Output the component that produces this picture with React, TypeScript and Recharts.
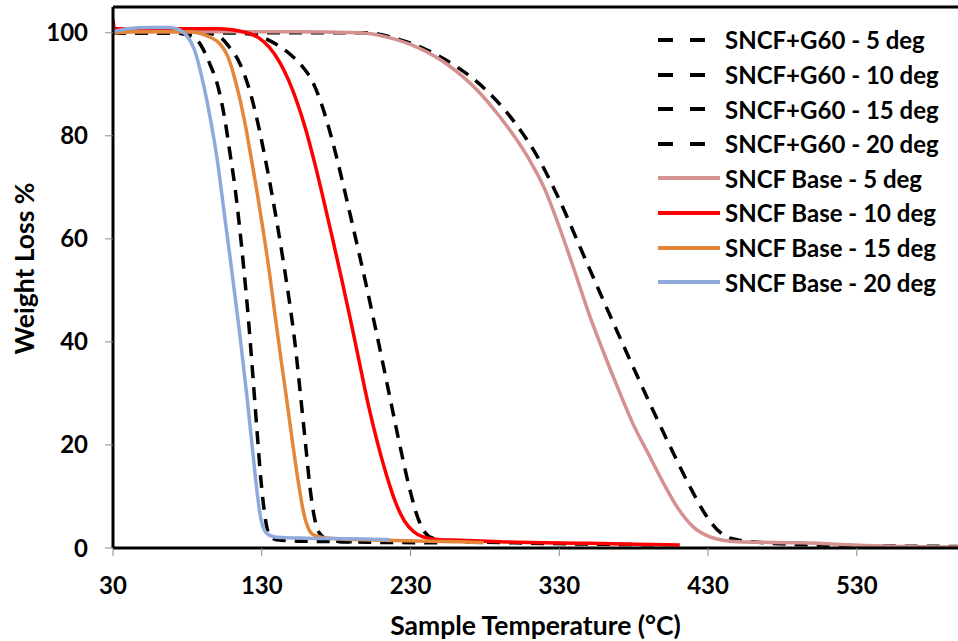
import React from 'react';
import { LineChart, Line, XAxis, YAxis, ReferenceLine } from 'recharts';

// [temperature °C, weight %] pairs
const g60_5deg = [[30, 100], [200, 100], [220, 98.9], [240, 96.8], [260, 93.6], [280, 89.1], [300, 82.6], [315, 76.1], [330, 67.6], [345, 57.7], [360, 47.8], [375, 38.1], [390, 28.6], [405, 19.4], [418, 11.8], [428, 6.6], [436, 3.6], [445, 1.9], [460, 1.2], [500, 0.6], [598, 0.3]];
const g60_10deg = [[30, 100], [110, 100], [125, 99.6], [140, 97.7], [150, 95.6], [158, 93.2], [164, 90.6], [170, 86.3], [175, 81.6], [180, 76.2], [185, 70.2], [190, 64], [195, 57.7], [200, 51.3], [205, 44.6], [210, 37.8], [215, 30.8], [220, 23.8], [225, 17], [230, 10.8], [235, 5.8], [240, 2.9], [245, 1.9], [260, 1.3], [300, 1.0], [400, 0.6]];
const g60_15deg = [[30, 100], [90, 100], [100, 99.5], [108, 97.3], [115, 94.2], [121, 89.6], [126, 84.2], [131, 77.5], [136, 70], [140, 63.5], [144, 56.5], [148, 49], [152, 40.5], [157, 27], [160, 18.5], [162.5, 11.5], [165, 6.5], [167.5, 3.6], [171, 2.2], [176, 1.5], [185, 1.2], [250, 1.0]];
const g60_20deg = [[30, 100], [70, 100], [80, 99.6], [86.5, 98.6], [95, 94], [100.6, 89.5], [105.3, 83], [108.6, 76.7], [112, 70], [115, 62.5], [118, 54], [121, 44.5], [124, 33.5], [127, 22], [129.5, 13], [132, 6.5], [134, 3.3], [136, 2.2], [140, 1.6], [158, 1.3], [200, 1.2]];
const base_5deg = [[30, 100.2], [150, 100.2], [196, 100], [215, 99.1], [235, 97.1], [255, 93.8], [275, 88.8], [290, 83.7], [300, 79.8], [310, 75.3], [320, 69.8], [330, 62.3], [340, 54], [350, 45.4], [360, 37.8], [370, 30.6], [380, 23.8], [390, 18.2], [400, 12.6], [410, 7.6], [420, 4.1], [430, 2.3], [440, 1.5], [450, 1.2], [492, 1.0], [547, 0.4], [598, 0.2]];
const base_10deg = [[30, 102.6], [31, 100.8], [100, 100.8], [120, 100], [128, 99], [135, 97.2], [142, 94.3], [148, 90.8], [154, 86.3], [160, 80.8], [166, 74.2], [172, 67], [178, 59.5], [184, 51.8], [190, 43.8], [196, 35.5], [202, 27.3], [208, 20.2], [214, 14], [220, 8.8], [226, 5.2], [232, 3.2], [238, 2.2], [250, 1.6], [263, 1.5], [290, 1.2], [350, 0.9], [411, 0.6]];
const base_15deg = [[30, 99.9], [45, 100.2], [80, 100.2], [95, 99.2], [102, 97.8], [107, 95.5], [111, 92], [115, 87.5], [119, 82], [123, 75.5], [127, 68.8], [131, 61.5], [135, 53.8], [139, 45], [143, 36.5], [147, 28.3], [151, 19.8], [155, 12], [158, 7], [161, 4], [164, 2.7], [170, 2.1], [180, 1.8], [200, 1.6], [263, 1.2], [279, 1.0]];
const base_20deg = [[30, 100.2], [40, 100.8], [55, 101], [68, 101], [75, 100.5], [80, 99.3], [85, 96.5], [90, 91], [95, 84], [100, 75.5], [105, 64.5], [110, 53.5], [115, 42], [120, 29.5], [124, 18.5], [127, 10.5], [129.5, 5.5], [132, 3.3], [135, 2.5], [140, 2.1], [160, 1.9], [190, 1.8], [216, 1.6]];

const xTicks = [30, 130, 230, 330, 430, 530];
const yTicks = [0, 20, 40, 60, 80, 100];

const FONT = 'Lato, "Open Sans", sans-serif';

const series = [
  { name: 'SNCF+G60 - 5 deg', points: g60_5deg, color: '#000000', dashed: true },
  { name: 'SNCF+G60 - 10 deg', points: g60_10deg, color: '#000000', dashed: true },
  { name: 'SNCF+G60 - 15 deg', points: g60_15deg, color: '#000000', dashed: true },
  { name: 'SNCF+G60 - 20 deg', points: g60_20deg, color: '#000000', dashed: true },
  { name: 'SNCF Base - 5 deg', points: base_5deg, color: '#D4918F', dashed: false },
  { name: 'SNCF Base - 10 deg', points: base_10deg, color: '#FF0000', dashed: false },
  { name: 'SNCF Base - 15 deg', points: base_15deg, color: '#E3873A', dashed: false },
  { name: 'SNCF Base - 20 deg', points: base_20deg, color: '#8FAADA', dashed: false },
];

const tickStyle = { fontFamily: FONT, fontSize: 24, fontWeight: 700, fill: '#000' };
const titleStyle = { fontFamily: FONT, fontSize: 26.5, fontWeight: 700, fill: '#000', textAnchor: 'middle' as const };

const LegendBox = () => (
  <div style={{ position: 'absolute', left: 650, top: 22.7, fontFamily: FONT, fontSize: 24, fontWeight: 700 }}>
    {series.map((s) => (
      <div key={s.name} style={{ height: 34.6, display: 'flex', alignItems: 'center', whiteSpace: 'nowrap' }}>
        <svg width={72} height={10}>
          {s.dashed ? (
            <line x1={8} x2={57} y1={5} y2={5} stroke={s.color} strokeWidth={4} strokeDasharray="15 17" />
          ) : (
            <line x1={8} x2={70} y1={5} y2={5} stroke={s.color} strokeWidth={4} />
          )}
        </svg>
        <span style={{ marginLeft: 3, color: '#000' }}>{s.name}</span>
      </div>
    ))}
  </div>
);

const App = () => {
  return (
    <div style={{ position: 'absolute', left: 0, top: 0, width: 958, height: 641, background: '#fff' }}>
      <LineChart width={958} height={641} margin={{ top: 7, right: 0, bottom: 0, left: 0 }}>
        <XAxis
          type="number"
          dataKey="t"
          domain={[30, 598]}
          ticks={xTicks}
          allowDataOverflow
          height={93}
          tick={tickStyle}
          tickSize={8}
          tickMargin={21}
          tickLine={{ stroke: '#888' }}
          axisLine={{ stroke: '#000', strokeWidth: 3 }}
          label={{ value: 'Sample Temperature (°C)', position: 'insideBottom', offset: 6, style: titleStyle }}
        />
        <YAxis
          type="number"
          domain={[0, 105]}
          ticks={yTicks}
          allowDataOverflow
          width={113}
          tick={tickStyle}
          tickSize={8}
          tickMargin={17}
          tickLine={{ stroke: '#888' }}
          axisLine={{ stroke: '#000', strokeWidth: 3 }}
          label={{ value: 'Weight Loss %', angle: -90, position: 'center', dx: -32, dy: -9, style: titleStyle }}
        />
        <ReferenceLine y={105} stroke="#000" strokeWidth={3} />
        {series.map((s) => (
          <Line
            key={s.name}
            data={s.points.map(([t, w]) => ({ t, w }))}
            dataKey="w"
            name={s.name}
            type="monotone"
            stroke={s.color}
            strokeWidth={3.5}
            strokeDasharray={s.dashed ? '13 9' : undefined}
            dot={false}
            activeDot={false}
            isAnimationActive={false}
          />
        ))}
      </LineChart>
      <LegendBox />
    </div>
  );
};

export default App;
